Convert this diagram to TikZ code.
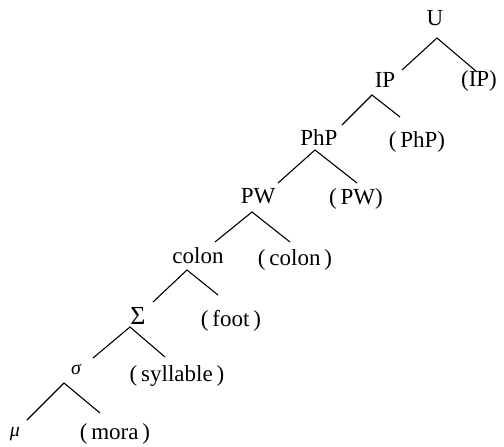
\documentclass[tikz,border=0pt]{standalone}
\usepackage{fontspec}
\setmainfont{Liberation Serif}
\begin{document}
\begin{tikzpicture}[x=1pt,y=-1pt,
  lab/.style={inner sep=0pt,font=\fontsize{23}{25}\selectfont},
  small/.style={inner sep=0pt,font=\fontsize{20}{22}\selectfont\itshape},
  edge/.style={line width=1.1pt}]
\useasboundingbox (0,0) rectangle (504,447);
% labels
\node[lab] (U) at (435,18) {U};
\node[lab] (IP) at (385,80) {IP};
\node[lab] (IPo) at (479,81) {(IP)};
\node[lab] (PhP) at (319,138) {PhP};
\node[lab] (PhPo) at (417,142) {(\,PhP)};
\node[lab] (PW) at (258,196) {PW};
\node[lab] (PWo) at (356,199) {(\,PW)};
\node[lab] (colon) at (198,256) {colon};
\node[lab] (colono) at (295,260) {(\,colon\,)};
\node[lab,font=\fontsize{26}{28}\selectfont] (Sig) at (138,316) {Σ};
\node[lab] (foot) at (231,321) {(\,foot\,)};
\node[small] (sig) at (76,369) {σ};
\node[lab] (syl) at (177,376) {(\,syllable\,)};
\node[small] (mu) at (15,434) {μ};
\node[lab] (mora) at (115,434) {(\,mora\,)};
% connector ends
\coordinate (aU) at (437,38);  \coordinate (lU) at (402,70);  \coordinate (rU) at (477,72);
\coordinate (aIP) at (372,95); \coordinate (lIP) at (342,125); \coordinate (rIP) at (400,117);
\coordinate (aPhP) at (315,150); \coordinate (lPhP) at (278,183); \coordinate (rPhP) at (357,183);
\coordinate (aPW) at (252,212); \coordinate (lPW) at (215,242); \coordinate (rPW) at (290,242);
\coordinate (acol) at (187,270); \coordinate (lcol) at (153,302); \coordinate (rcol) at (218,295);
\coordinate (aSig) at (130,327); \coordinate (lSig) at (93,358); \coordinate (rSig) at (165,357);
\coordinate (asig) at (64,383); \coordinate (lsig) at (27,420); \coordinate (rsig) at (100,413);
\draw[edge] (lU) -- (aU) -- (rU);
\draw[edge] (lIP) -- (aIP) -- (rIP);
\draw[edge] (lPhP) -- (aPhP) -- (rPhP);
\draw[edge] (lPW) -- (aPW) -- (rPW);
\draw[edge] (lcol) -- (acol) -- (rcol);
\draw[edge] (lSig) -- (aSig) -- (rSig);
\draw[edge] (lsig) -- (asig) -- (rsig);
\end{tikzpicture}
\end{document}
